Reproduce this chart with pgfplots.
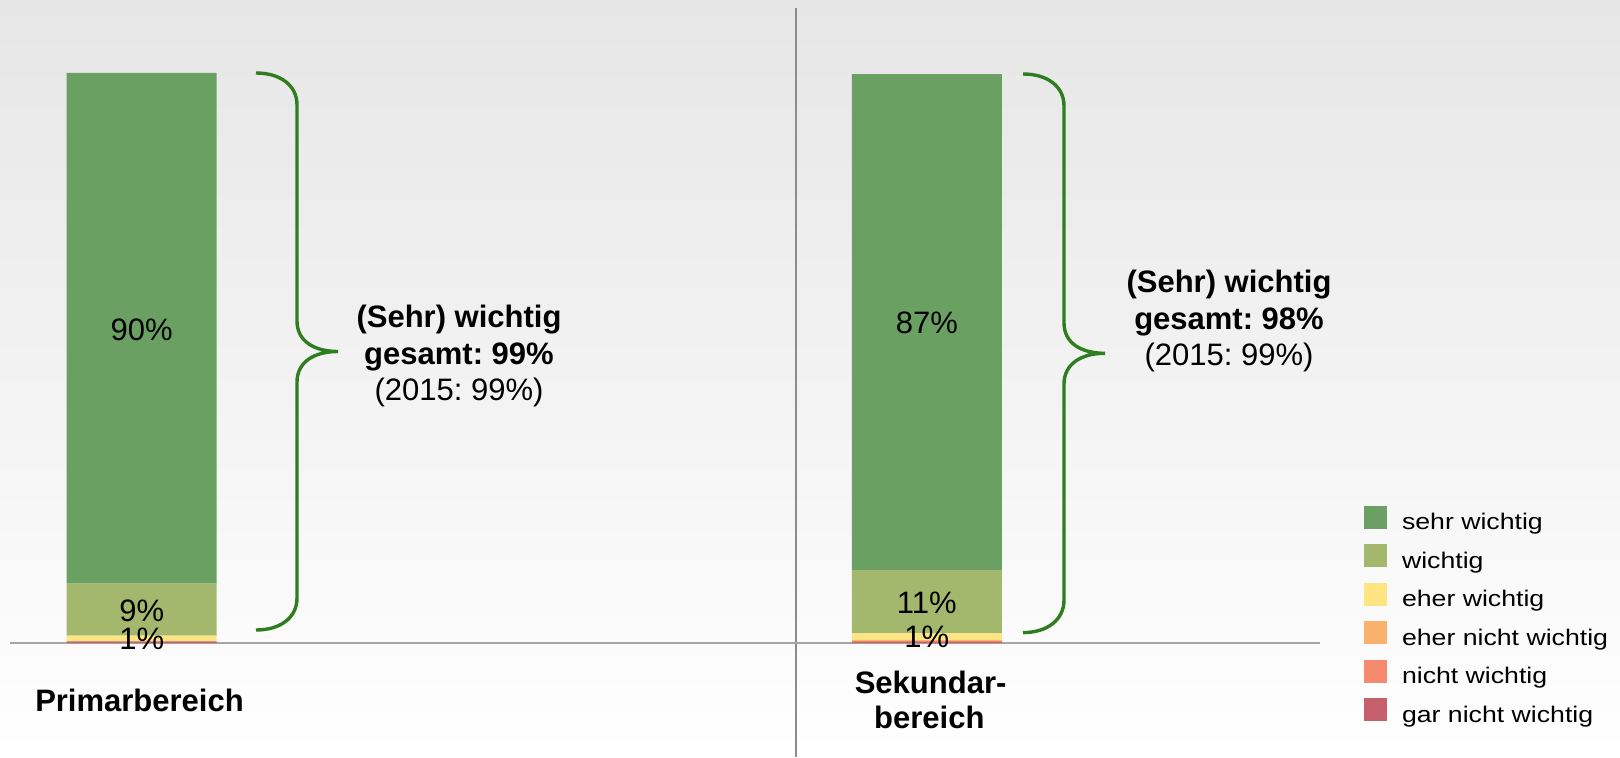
\documentclass[border=0pt]{standalone}
\usepackage{fontspec}
\setmainfont{Liberation Sans}
\newfontfamily\legfont[FakeStretch=1.18]{Liberation Sans}
\usepackage{pgfplots}
\usepackage{pgfplotstable}
\pgfplotsset{compat=1.18}
\frenchspacing

\definecolor{csehr}{HTML}{6BA063}
\definecolor{cwichtig}{HTML}{A3B86C}
\definecolor{ceher}{HTML}{FFE581}
\definecolor{cehernicht}{HTML}{F9B26E}
\definecolor{cnicht}{HTML}{F58A6E}
\definecolor{cgar}{HTML}{C6606A}
\definecolor{cbrace}{HTML}{2E7D1E}
\definecolor{csep}{HTML}{8C8C8C}
\definecolor{cbase}{HTML}{A6A6A6}

\pgfplotstableread{
x gar nicht ehernicht eher wichtig sehr
141.7 0.3 0 0 1.0 9.1 89.6
926.8 0.2 0.1 0.2 1.2 11.1 87.0
}\datatable

\begin{document}
\frenchspacing
\begin{tikzpicture}
\shade[top color={rgb,255:red,230;green,230;blue,230}, bottom color=white] (0pt,0pt) rectangle (810pt,378.5pt);
\begin{scope}[x=0.5pt, y=-0.5pt, shift={(0pt,378.5pt)}]
  \draw[csep, line width=1pt] (796,8) -- (796,757);
  \draw[cbase, line width=1pt] (10,643) -- (1320,643);
\end{scope}
\begin{axis}[
  at={(0pt,0pt)}, anchor=south west,
  scale only axis, width=810pt, height=378.5pt,
  xmin=0, xmax=1620, ymin=-20, ymax=112.807,
  hide axis,
  ybar stacked, bar width=150,
  clip=false,
  reverse legend,
  legend cell align=left,
  legend image code/.code={\fill[#1] (0pt,-2.9pt) rectangle (11.5pt,8.6pt);},
  legend style={draw=none, fill=none, inner sep=0pt, outer sep=0pt,
    at={(axis cs:1364,24.04)}, anchor=north west,
    row sep=5.8pt, column sep=7.5pt,
    nodes={inner sep=0pt, outer sep=0pt},
    font=\legfont\fontsize{11.3}{13}\selectfont},
]
\addplot[fill=cgar, draw=none] table[x=x, y=gar] {\datatable};
\addlegendentry{gar nicht wichtig}
\addplot[fill=cnicht, draw=none] table[x=x, y=nicht] {\datatable};
\addlegendentry{nicht wichtig}
\addplot[fill=cehernicht, draw=none] table[x=x, y=ehernicht] {\datatable};
\addlegendentry{eher nicht wichtig}
\addplot[fill=ceher, draw=none] table[x=x, y=eher] {\datatable};
\addlegendentry{eher wichtig}
\addplot[fill=cwichtig, draw=none] table[x=x, y=wichtig] {\datatable};
\addlegendentry{wichtig}
\addplot[fill=csehr, draw=none] table[x=x, y=sehr] {\datatable};
\addlegendentry{sehr wichtig}
\end{axis}
\begin{scope}[x=0.5pt, y=-0.5pt, shift={(0pt,378.5pt)}]
  % braces
  \draw[cbrace, line width=1.7pt] (256,73) .. controls (280,73) and (297,85) .. (297,105) -- (297,321)
     .. controls (297,341) and (314,351.5) .. (338,351.5)
     .. controls (314,351.5) and (297,362) .. (297,382) -- (297,598)
     .. controls (297,618) and (280,630) .. (256,630);
  \draw[cbrace, line width=1.7pt] (1023,74) .. controls (1047,74) and (1064,86) .. (1064,106) -- (1064,323)
     .. controls (1064,343) and (1081,353.3) .. (1105,353.3)
     .. controls (1081,353.3) and (1064,364) .. (1064,384) -- (1064,600)
     .. controls (1064,620) and (1047,632.6) .. (1023,632.6);
  % bar labels
  \begin{scope}[every node/.style={anchor=base, inner sep=0pt, font=\fontsize{15.5}{18}\selectfont}]
    \node at (141.7,340) {90\%};
    \node at (141.7,621) {9\%};
    \node at (141.7,649) {1\%};
    \node at (926.8,333) {87\%};
    \node at (926.8,613) {11\%};
    \node at (926.8,647) {1\%};
  \end{scope}
  % brace texts
  \begin{scope}[every node/.style={anchor=base, inner sep=0pt, font=\fontsize{15.5}{18}\selectfont}]
    \node[font=\bfseries\fontsize{15.5}{18}\selectfont] at (459,327) {(Sehr) wichtig};
    \node[font=\bfseries\fontsize{15.5}{18}\selectfont] at (459,364) {gesamt: 99\%};
    \node at (459,400) {(2015: 99\%)};
    \node[font=\bfseries\fontsize{15.5}{18}\selectfont] at (1229,292) {(Sehr) wichtig};
    \node[font=\bfseries\fontsize{15.5}{18}\selectfont] at (1229,329) {gesamt: 98\%};
    \node at (1229,365) {(2015: 99\%)};
  \end{scope}
  % category labels
  \begin{scope}[every node/.style={anchor=base, inner sep=0pt, font=\bfseries\fontsize{15.5}{18}\selectfont}]
    \node at (139.5,711) {Primarbereich};
    \node at (930.6,693) {Sekundar-};
    \node at (929.3,728) {bereich};
  \end{scope}
\end{scope}
\pgfresetboundingbox
\path[use as bounding box] (0pt,0pt) rectangle (810pt,378.5pt);
\end{tikzpicture}
\end{document}
